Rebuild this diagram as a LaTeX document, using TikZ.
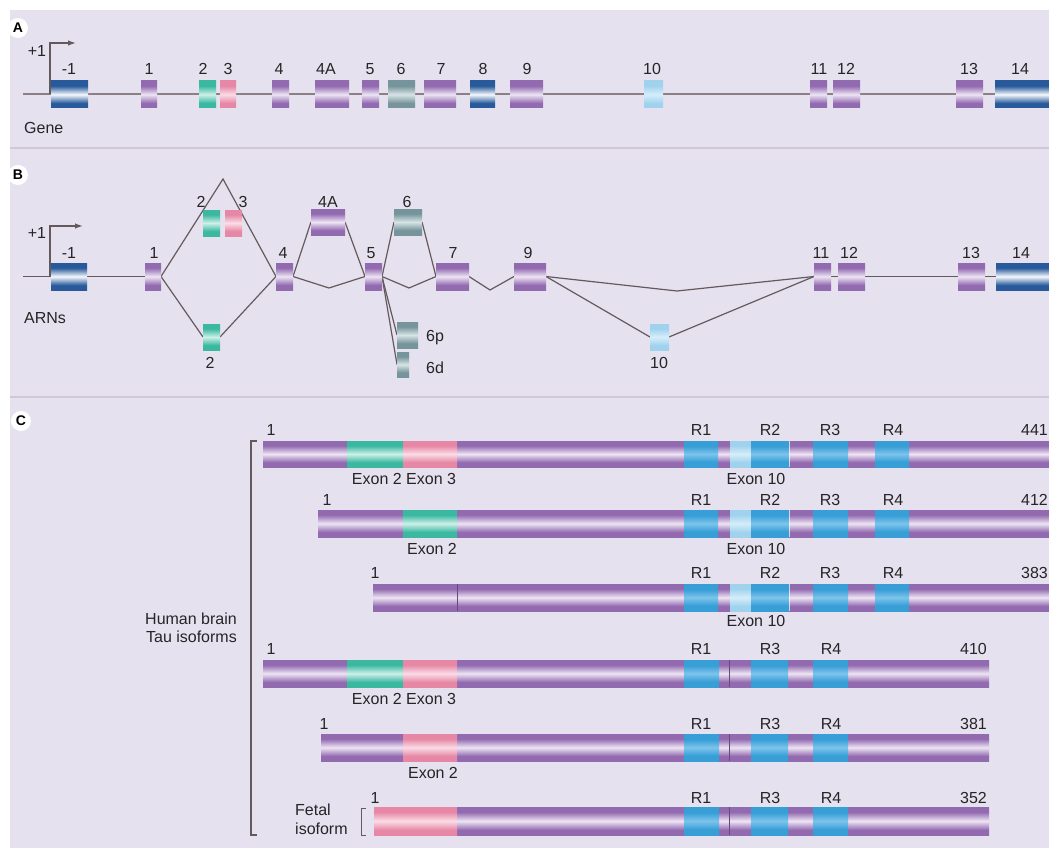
\documentclass[tikz,border=0pt]{standalone}
\usepackage{fontspec}
\setmainfont{Liberation Sans}
\usetikzlibrary{arrows.meta}
\definecolor{bgc}{RGB}{230,225,238}
\definecolor{sepc}{RGB}{208,200,218}
\definecolor{txt}{RGB}{38,36,38}
\definecolor{connc}{RGB}{100,90,94}
\definecolor{genec}{RGB}{140,128,134}
\definecolor{pD}{RGB}{146,106,176}
\definecolor{pL}{RGB}{238,228,244}
\definecolor{tD}{RGB}{58,184,160}
\definecolor{tL}{RGB}{205,240,232}
\definecolor{kD}{RGB}{230,135,165}
\definecolor{kL}{RGB}{250,220,230}
\definecolor{bD}{RGB}{40,90,155}
\definecolor{bL}{RGB}{245,248,252}
\definecolor{gD}{RGB}{118,148,155}
\definecolor{gL}{RGB}{215,228,230}
\definecolor{lD}{RGB}{160,210,238}
\definecolor{lL}{RGB}{214,237,249}
\definecolor{rD}{RGB}{55,158,214}
\definecolor{rL}{RGB}{125,196,236}
\pgfdeclareverticalshading{exP}{100bp}{color(0bp)=(pD); color(25bp)=(pD); color(34bp)=(pD); color(50bp)=(pL); color(66bp)=(pD); color(75bp)=(pD); color(100bp)=(pD)}
\pgfdeclareverticalshading{exT}{100bp}{color(0bp)=(tD); color(25bp)=(tD); color(34bp)=(tD); color(50bp)=(tL); color(66bp)=(tD); color(75bp)=(tD); color(100bp)=(tD)}
\pgfdeclareverticalshading{exK}{100bp}{color(0bp)=(kD); color(25bp)=(kD); color(34bp)=(kD); color(50bp)=(kL); color(66bp)=(kD); color(75bp)=(kD); color(100bp)=(kD)}
\pgfdeclareverticalshading{exB}{100bp}{color(0bp)=(bD); color(25bp)=(bD); color(34bp)=(bD); color(50bp)=(bL); color(66bp)=(bD); color(75bp)=(bD); color(100bp)=(bD)}
\pgfdeclareverticalshading{exG}{100bp}{color(0bp)=(gD); color(25bp)=(gD); color(34bp)=(gD); color(50bp)=(gL); color(66bp)=(gD); color(75bp)=(gD); color(100bp)=(gD)}
\pgfdeclareverticalshading{exL}{100bp}{color(0bp)=(lD); color(25bp)=(lD); color(34bp)=(lD); color(50bp)=(lL); color(66bp)=(lD); color(75bp)=(lD); color(100bp)=(lD)}
\pgfdeclareverticalshading{exR}{100bp}{color(0bp)=(rD); color(25bp)=(rD); color(35bp)=(rD); color(50bp)=(rL); color(65bp)=(rD); color(75bp)=(rD); color(100bp)=(rD)}
\pgfdeclarelayer{bg}
\pgfdeclarelayer{lines}
\pgfsetlayers{bg,lines,main}
\tikzset{
  exon/.style={rectangle, inner sep=0pt, outer sep=0pt, draw=none, shade},
  lab/.style={inner sep=0pt, text height=11.5pt, text depth=0pt, font=\fontsize{16}{19}\selectfont, text=txt},
  plab/.style={circle, fill=white, inner sep=0pt, minimum size=20pt, font=\fontsize{14}{16}\selectfont\bfseries, text=black},
  conn/.style={draw=connc, line width=1.2pt},
  geneline/.style={draw=genec, line width=2pt},
  prom/.style={draw=connc, line width=1.3pt, -{Latex[length=8pt,width=5.5pt]}},
  brk/.style={draw=connc, line width=1.3pt},
  sep/.style={draw=sepc, line width=1.5pt}
}
\newcommand\exonbox[6]{\node[exon, shading=#6, minimum width={(#3-#2)*1pt}, minimum height={(#5-#4)*1pt}] (#1) at ({(#2+#3)/2},{(#4+#5)/2}) {};}
\newcommand\seg[5]{\shade[shading=#5] (#1,#3) rectangle (#2,#4);}
\begin{document}
\begin{tikzpicture}[x=1pt,y=-1pt]
\useasboundingbox (0,0) rectangle (1049,848);
\begin{pgfonlayer}{bg}
\fill[white] (0,0) rectangle (1049,848);
\fill[bgc] (10,10) rectangle (1049,848);
\draw[sep] (10,148) -- (1049,148);
\draw[sep] (10,397) -- (1049,397);
\end{pgfonlayer}

% ---------- Panel A ----------
\node[plab] (pA) at (18,28) {A};
\exonbox{am1}{51}{88}{81}{108}{exB}
\exonbox{a1}{141}{157}{81}{108}{exP}
\exonbox{a2}{199}{216}{81}{108}{exT}
\exonbox{a3}{220}{236}{81}{108}{exK}
\exonbox{a4}{272}{289}{81}{108}{exP}
\exonbox{a4A}{315}{349}{81}{108}{exP}
\exonbox{a5}{362}{379}{81}{108}{exP}
\exonbox{a6}{388}{415}{81}{108}{exG}
\exonbox{a7}{424}{456}{81}{108}{exP}
\exonbox{a8}{470}{495}{81}{108}{exB}
\exonbox{a9}{510}{543}{81}{108}{exP}
\exonbox{a10}{644}{663}{81}{108}{exL}
\exonbox{a11}{810}{827}{81}{108}{exP}
\exonbox{a12}{833}{860}{81}{108}{exP}
\exonbox{a13}{956}{983}{81}{108}{exP}
\exonbox{a14}{995}{1049}{81}{108}{exB}
\coordinate (aS) at (23,94.5);
\coordinate (pA0) at (50,94.5);
\coordinate (pAtip) at (76,43);
\begin{pgfonlayer}{lines}
\draw[geneline] (aS) -- (a14.west);
\draw[prom] (pA0) |- (pAtip);
\end{pgfonlayer}
\node[lab] (tpA) at (37,51) {+1};
\node[lab] (lam1) at (69,69) {-1};
\node[lab] (la1) at (149,69) {1};
\node[lab] (la2) at (203,69) {2};
\node[lab] (la3) at (228,69) {3};
\node[lab] (la4) at (279,69) {4};
\node[lab] (la4A) at (326,69) {4A};
\node[lab] (la5) at (370,69) {5};
\node[lab] (la6) at (401,69) {6};
\node[lab] (la7) at (441,69) {7};
\node[lab] (la8) at (483,69) {8};
\node[lab] (la9) at (527,69) {9};
\node[lab] (la10) at (652,69) {10};
\node[lab] (la11) at (819,69) {11};
\node[lab] (la12) at (846,69) {12};
\node[lab] (la13) at (969,69) {13};
\node[lab] (la14) at (1020,69) {14};
\node[lab, anchor=west] (gene) at (24,128) {Gene};

% ---------- Panel B ----------
\node[plab] (pB) at (18,175) {B};
\exonbox{bm1}{51}{87}{263}{290}{exB}
\exonbox{b1}{145}{161}{263}{290}{exP}
\exonbox{b2t}{203}{220}{210}{236}{exT}
\exonbox{b3t}{225}{242}{210}{236}{exK}
\exonbox{b2l}{203}{220}{324}{350}{exT}
\exonbox{b4}{276}{293}{263}{290}{exP}
\exonbox{b4A}{311}{345}{209}{235}{exP}
\exonbox{b5}{365}{382}{263}{290}{exP}
\exonbox{b6}{394}{422}{209}{235}{exG}
\exonbox{b6p}{397}{418}{322}{348}{exG}
\exonbox{b6d}{397}{409}{352}{377}{exG}
\exonbox{b7}{436}{469}{263}{290}{exP}
\exonbox{b9}{514}{546}{263}{290}{exP}
\exonbox{b10}{650}{669}{324}{350}{exL}
\exonbox{b11}{814}{831}{263}{290}{exP}
\exonbox{b12}{838}{865}{263}{290}{exP}
\exonbox{b13}{958}{985}{263}{290}{exP}
\exonbox{b14}{996}{1049}{263}{290}{exB}
\coordinate (bS) at (23,276.5);
\coordinate (pB0) at (50,276.5);
\coordinate (pBtip) at (83,226);
\coordinate (bapex) at (223,179);
\coordinate (bv1) at (329,288);
\coordinate (bv2) at (409,288);
\coordinate (bv3) at (490,290);
\coordinate (bv4) at (677,291);
\begin{pgfonlayer}{lines}
\draw[conn] (bS) -- (b1.west);
\draw[prom] (pB0) |- (pBtip);
\draw[conn] (b1.east) -- (bapex) -- (b4.west);
\draw[conn] (b1.east) -- (b2l.west);
\draw[conn] (b2l.east) -- (b4.west);
\draw[conn] (b4.east) -- (b4A.west);
\draw[conn] (b4A.east) -- (b5.west);
\draw[conn] (b4.east) -- (bv1) -- (b5.west);
\draw[conn] (b5.east) -- (b6.west);
\draw[conn] (b6.east) -- (b7.west);
\draw[conn] (b5.east) -- (bv2) -- (b7.west);
\draw[conn] (b5.east) -- (b6p.west);
\draw[conn] (b5.east) -- (b6d.west);
\draw[conn] (b7.east) -- (bv3) -- (b9.west);
\draw[conn] (b9.east) -- (bv4) -- (b11.west);
\draw[conn] (b9.east) -- (b10.west);
\draw[conn] (b10.east) -- (b11.west);
\draw[conn] (b11.east) -- (b12.west);
\draw[conn] (b12.east) -- (b13.west);
\draw[conn] (b13.east) -- (b14.west);
\end{pgfonlayer}
\node[lab] (tpB) at (37,233) {+1};
\node[lab] (lbm1) at (69,253) {-1};
\node[lab] (lb1) at (154,253) {1};
\node[lab] (lb2t) at (201,202) {2};
\node[lab] (lb3t) at (243,202) {3};
\node[lab] (lb2l) at (210,363) {2};
\node[lab] (lb4) at (283,253) {4};
\node[lab] (lb4A) at (328,202) {4A};
\node[lab] (lb5) at (371,253) {5};
\node[lab] (lb6) at (407,202) {6};
\node[lab, anchor=west] (lb6p) at (426,336) {6p};
\node[lab, anchor=west] (lb6d) at (426,368) {6d};
\node[lab] (lb7) at (453,253) {7};
\node[lab] (lb9) at (528,253) {9};
\node[lab] (lb10) at (659,363) {10};
\node[lab] (lb11) at (821,253) {11};
\node[lab] (lb12) at (849,253) {12};
\node[lab] (lb13) at (971,253) {13};
\node[lab] (lb14) at (1021,253) {14};
\node[lab, anchor=west] (arns) at (24,318) {ARNs};

% ---------- Panel C ----------
\node[plab] (pC) at (21,421) {C};
% row 1 (441)
\seg{263}{1049}{441}{467}{exP}
\seg{347}{403}{441}{467}{exT}
\seg{403}{457}{441}{467}{exK}
\seg{684}{718}{441}{467}{exR}
\seg{730}{751}{441}{467}{exL}
\seg{751}{789}{441}{467}{exR}
\seg{813}{848}{441}{467}{exR}
\seg{875}{909}{441}{467}{exR}
\draw[white, line width=1pt, opacity=0.7] (789.5,441) -- (789.5,467);
% row 2 (412)
\seg{318}{1049}{510}{537}{exP}
\seg{403}{457}{510}{537}{exT}
\seg{684}{718}{510}{537}{exR}
\seg{730}{751}{510}{537}{exL}
\seg{751}{789}{510}{537}{exR}
\seg{813}{848}{510}{537}{exR}
\seg{875}{909}{510}{537}{exR}
\draw[white, line width=1pt, opacity=0.7] (789.5,510) -- (789.5,537);
% row 3 (383)
\seg{373}{1049}{584}{611}{exP}
\seg{684}{718}{584}{611}{exR}
\seg{730}{751}{584}{611}{exL}
\seg{751}{789}{584}{611}{exR}
\seg{813}{848}{584}{611}{exR}
\seg{875}{909}{584}{611}{exR}
\draw[white, line width=1pt, opacity=0.7] (789.5,584) -- (789.5,611);
\draw[pD!70!black, line width=0.8pt] (457,584) -- (457,611);
% row 4 (410)
\seg{263}{989}{660}{687}{exP}
\seg{347}{403}{660}{687}{exT}
\seg{403}{457}{660}{687}{exK}
\seg{684}{719}{660}{687}{exR}
\seg{751}{788}{660}{687}{exR}
\seg{813}{848}{660}{687}{exR}
\draw[pD!70!black, line width=0.8pt] (729,660) -- (729,687);
% row 5 (381)
\seg{321}{989}{734}{761}{exP}
\seg{403}{457}{734}{761}{exK}
\seg{684}{719}{734}{761}{exR}
\seg{751}{788}{734}{761}{exR}
\seg{813}{848}{734}{761}{exR}
\draw[pD!70!black, line width=0.8pt] (729,734) -- (729,761);
% row 6 (352)
\seg{374}{989}{807}{835}{exP}
\seg{374}{457}{807}{835}{exK}
\seg{684}{719}{807}{835}{exR}
\seg{751}{788}{807}{835}{exR}
\seg{813}{848}{807}{835}{exR}
\draw[pD!70!black, line width=0.8pt] (729,807) -- (729,835);

% labels row 1
\node[lab] (c1a) at (271,430) {1};
\node[lab] (c1r1) at (701,430) {R1};
\node[lab] (c1r2) at (770,430) {R2};
\node[lab] (c1r3) at (830,430) {R3};
\node[lab] (c1r4) at (893,430) {R4};
\node[lab, anchor=east] (c1n) at (1048,430) {441};
\node[lab] (c1e) at (404,479) {Exon 2 Exon 3};
\node[lab] (c1x) at (756,479) {Exon 10};
% row 2
\node[lab] (c2a) at (327,500) {1};
\node[lab] (c2r1) at (701,500) {R1};
\node[lab] (c2r2) at (770,500) {R2};
\node[lab] (c2r3) at (830,500) {R3};
\node[lab] (c2r4) at (893,500) {R4};
\node[lab, anchor=east] (c2n) at (1048,500) {412};
\node[lab] (c2e) at (432,549) {Exon 2};
\node[lab] (c2x) at (756,549) {Exon 10};
% row 3
\node[lab] (c3a) at (375,573) {1};
\node[lab] (c3r1) at (701,573) {R1};
\node[lab] (c3r2) at (770,573) {R2};
\node[lab] (c3r3) at (830,573) {R3};
\node[lab] (c3r4) at (893,573) {R4};
\node[lab, anchor=east] (c3n) at (1048,573) {383};
\node[lab] (c3x) at (756,621) {Exon 10};
% row 4
\node[lab] (c4a) at (271,649) {1};
\node[lab] (c4r1) at (701,649) {R1};
\node[lab] (c4r3) at (770,649) {R3};
\node[lab] (c4r4) at (831,649) {R4};
\node[lab, anchor=east] (c4n) at (987,649) {410};
\node[lab] (c4e) at (404,699) {Exon 2 Exon 3};
% row 5
\node[lab] (c5a) at (324,724) {1};
\node[lab] (c5r1) at (701,724) {R1};
\node[lab] (c5r3) at (770,724) {R3};
\node[lab] (c5r4) at (831,724) {R4};
\node[lab, anchor=east] (c5n) at (987,724) {381};
\node[lab] (c5e) at (433,773) {Exon 2};
% row 6
\node[lab] (c6a) at (375,798) {1};
\node[lab] (c6r1) at (701,798) {R1};
\node[lab] (c6r3) at (770,798) {R3};
\node[lab] (c6r4) at (831,798) {R4};
\node[lab, anchor=east] (c6n) at (987,798) {352};

% brackets and side texts
\coordinate (bk1) at (257,441);
\coordinate (bk2) at (251,441);
\coordinate (bk3) at (251,835);
\coordinate (bk4) at (257,835);
\draw[brk] (bk1) -- (bk2) -- (bk3) -- (bk4);
\node[lab, anchor=east] (hb1) at (237,619) {Human brain};
\node[lab, anchor=east] (hb2) at (237,637) {Tau isoforms};
\coordinate (fk1) at (366,808);
\coordinate (fk2) at (361,808);
\coordinate (fk3) at (361,835);
\coordinate (fk4) at (366,835);
\draw[brk, line width=1pt] (fk1) -- (fk2) -- (fk3) -- (fk4);
\node[lab, anchor=west] (fet1) at (295,810) {Fetal};
\node[lab, anchor=west] (fet2) at (295,829) {isoform};
\end{tikzpicture}
\end{document}
